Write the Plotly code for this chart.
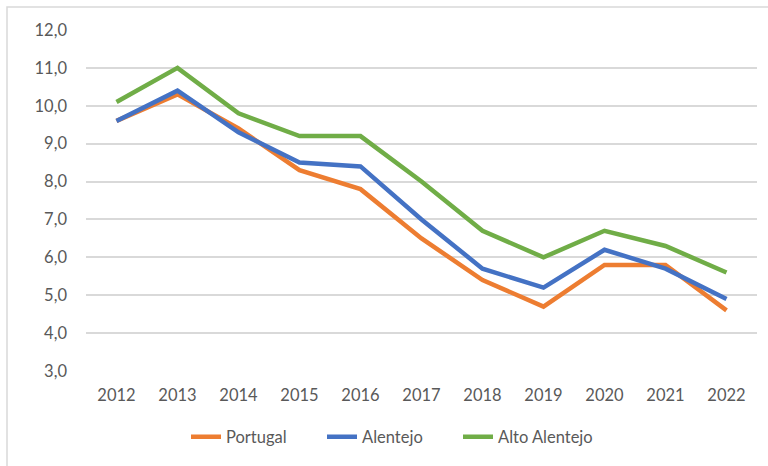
import plotly.graph_objects as go

years = ["2012", "2013", "2014", "2015", "2016", "2017", "2018", "2019", "2020", "2021", "2022"]
portugal = [9.6, 10.3, 9.4, 8.3, 7.8, 6.5, 5.4, 4.7, 5.8, 5.8, 4.6]
alentejo = [9.6, 10.4, 9.3, 8.5, 8.4, 7.0, 5.7, 5.2, 6.2, 5.7, 4.9]
alto_alentejo = [10.1, 11.0, 9.8, 9.2, 9.2, 8.0, 6.7, 6.0, 6.7, 6.3, 5.6]
series_names = ["Portugal", "Alentejo", "Alto Alentejo"]
colors = ["#ED7D31", "#4472C4", "#70AD47"]

FONT = "Lato, Liberation Sans Narrow, sans-serif"
FS = 16.5
FCOL = "#595959"

fig = go.Figure()
for name, vals, col in zip(series_names, [portugal, alentejo, alto_alentejo], colors):
    fig.add_trace(go.Scatter(x=years, y=vals, name=name, mode="lines",
                             line=dict(color=col, width=4.5)))

W, H = 768, 466
ml, mr, mt, mb = 86, 11, 30, 95
pw, ph = W - ml - mr, H - mt - mb

def px_to_paper_x(px):
    return (px - ml) / pw

def px_to_paper_y(py):
    return (H - mb - py) / ph

fig.add_shape(type="rect", xref="paper", yref="paper",
              x0=px_to_paper_x(7), x1=px_to_paper_x(780),
              y0=px_to_paper_y(480), y1=px_to_paper_y(7),
              line=dict(color="#D9D9D9", width=1.5), fillcolor="rgba(0,0,0,0)", layer="below")

fig.update_layout(
    width=W, height=H,
    margin=dict(l=ml, r=mr, t=mt, b=mb),
    paper_bgcolor="white", plot_bgcolor="white",
    separators=", ",
    font=dict(family=FONT, size=FS, color=FCOL),
    showlegend=True,
    legend=dict(orientation="h", x=px_to_paper_x(390), xanchor="center",
                y=px_to_paper_y(437), yanchor="middle",
                font=dict(family=FONT, size=FS, color=FCOL),
                entrywidth=91, entrywidthmode="pixels",
                itemwidth=30, tracegroupgap=0),
    xaxis=dict(type="category", range=[-0.5, 10.5], showgrid=False, zeroline=False,
               showline=False, ticks="", ticklabelstandoff=12,
               tickfont=dict(family=FONT, size=FS, color=FCOL)),
    yaxis=dict(range=[3, 12], dtick=1, tickformat=".1f", showgrid=True,
               gridcolor="#D9D9D9", gridwidth=1.5, zeroline=False, showline=False,
               ticks="", ticklabelstandoff=18,
               tickfont=dict(family=FONT, size=FS, color=FCOL)),
)

fig.write_html("out.html", config={"displayModeBar": False},
               post_script="document.body.style.margin='0';document.body.style.overflow='hidden';")
